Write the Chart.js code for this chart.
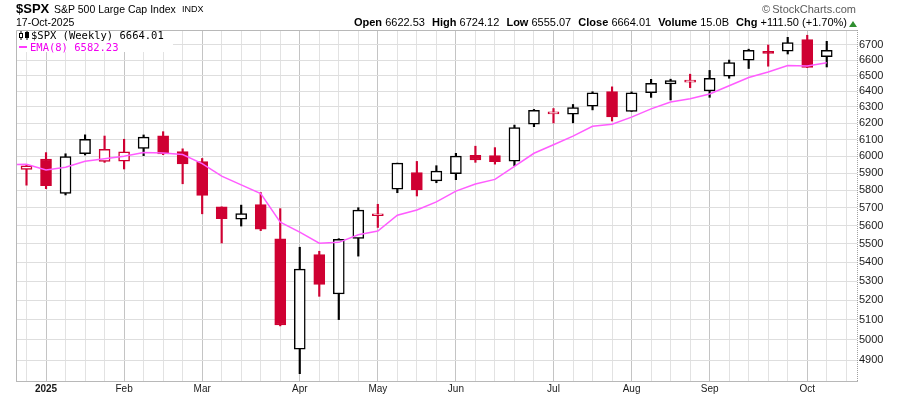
<!DOCTYPE html>
<html><head><meta charset="utf-8">
<script src="https://cdn.jsdelivr.net/npm/chart.js@4.4.1/dist/chart.umd.min.js"></script>
<style>
html,body{margin:0;padding:0;background:#fff;}
#wrap{position:relative;width:900px;height:396px;font-family:"Liberation Sans",Arial,sans-serif;color:#000;overflow:hidden;}
canvas{position:absolute;left:0;top:0;}
.t{position:absolute;white-space:nowrap;line-height:1;}
.mono{font-family:"DejaVu Sans Mono",monospace;font-size:10.5px;line-height:11px;}
#info b{font-size:11px;margin-left:1px;}
#info b:first-child{margin-left:0;}
</style></head><body>
<div id="wrap">
<canvas id="c" width="900" height="396"></canvas>
<div class="t" style="left:16px;top:2px;font-size:13px;font-weight:bold">$SPX</div>
<div class="t" style="left:54px;top:4px;font-size:10.5px">S&amp;P 500 Large Cap Index</div>
<div class="t" style="left:182px;top:5px;font-size:9px">INDX</div>
<div class="t" style="left:16px;top:17px;font-size:10.5px">17-Oct-2025</div>
<div class="t" style="right:44px;top:4px;font-size:11px;color:#5a5a5a">©&thinsp;StockCharts.com</div>
<div class="t" id="info" style="right:53px;top:17px;font-size:11px"></div>
<div style="position:absolute;left:849px;top:21px;width:0;height:0;border-left:4px solid transparent;border-right:4px solid transparent;border-bottom:6px solid #2f8f2f"></div>
<div style="position:absolute;left:17px;top:31px;width:156px;height:21px;background:#fff"></div>
<svg style="position:absolute;left:19px;top:31px" width="11" height="9">
<line x1="2" y1="0" x2="2" y2="9" stroke="#000" stroke-width="1"/><rect x="0.5" y="2.5" width="3" height="4" fill="#fff" stroke="#000"/>
<line x1="8" y1="0" x2="8" y2="9" stroke="#000" stroke-width="1"/><rect x="6.5" y="1.5" width="3" height="5" fill="#000" stroke="#000"/>
</svg>
<div class="t mono" id="leg1" style="left:31px;top:30px"></div>
<div style="position:absolute;left:19px;top:46px;width:8px;height:2px;background:#ff3cff"></div>
<div class="t mono" id="leg2" style="left:30px;top:42px;color:#f000f0"></div>
</div>
<script>
// ---- data (weekly, week of 30-Dec-2024 .. week of 13-Oct-2025) ----
const weekStarts = ["2024-12-30","2025-01-06","2025-01-13","2025-01-21","2025-01-27","2025-02-03","2025-02-10","2025-02-18","2025-02-24","2025-03-03","2025-03-10","2025-03-17","2025-03-24","2025-03-31","2025-04-07","2025-04-14","2025-04-21","2025-04-28","2025-05-05","2025-05-12","2025-05-19","2025-05-27","2025-06-02","2025-06-09","2025-06-16","2025-06-23","2025-06-30","2025-07-07","2025-07-14","2025-07-21","2025-07-28","2025-08-04","2025-08-11","2025-08-18","2025-08-25","2025-09-02","2025-09-08","2025-09-15","2025-09-22","2025-09-29","2025-10-06","2025-10-13"];
const open  = [5920.67,5982.81,5782.39,6014.12,5969.04,5969.65,6046.40,6121.60,6026.69,5968.33,5705.37,5635.60,5718.08,5527.91,4953.79,5441.96,5232.94,5529.22,5655.32,5807.10,5902.88,5854.07,5896.68,6004.60,6004.00,5969.67,6193.36,6257.00,6255.15,6304.74,6397.69,6271.71,6389.67,6445.95,6457.67,6401.51,6495.00,6599.00,6655.00,6658.00,6735.00,6622.53];
const high  = [5949.34,6021.04,6014.00,6128.18,6120.91,6101.28,6127.47,6147.43,6043.65,5986.09,5705.37,5715.33,5786.95,5695.31,5481.34,5459.46,5528.11,5700.70,5720.10,5958.62,5968.61,5943.24,6016.87,6059.40,6050.83,6187.68,6284.65,6290.22,6315.61,6395.82,6427.02,6395.16,6475.00,6476.00,6508.23,6532.65,6600.21,6671.82,6699.52,6750.87,6764.58,6724.12];
const low   = [5829.53,5809.22,5773.31,6006.88,5962.92,5923.93,6003.00,6008.56,5837.66,5666.29,5504.65,5597.76,5572.42,5069.90,4835.04,5220.79,5101.63,5433.24,5590.00,5786.08,5767.41,5843.66,5861.43,5963.21,5952.56,5943.23,6177.97,6201.01,6201.59,6281.71,6212.69,6271.71,6360.00,6343.85,6422.00,6360.58,6482.00,6545.00,6560.00,6640.00,6550.78,6555.07];
const close = [5942.47,5827.04,5996.66,6101.24,6040.53,6025.99,6114.63,6013.13,5954.50,5770.20,5638.94,5667.56,5580.94,5074.08,5363.36,5282.70,5525.21,5686.67,5659.91,5958.38,5802.82,5911.69,6000.36,5976.97,5967.84,6173.07,6279.35,6259.75,6296.79,6388.64,6238.01,6389.45,6449.80,6466.91,6460.26,6481.50,6584.29,6664.36,6643.70,6715.79,6552.51,6664.01];
const prevClose = 5970.84; // close of the week before the first bar
// EMA(8), starting one week before the first bar
const ema = [5950,5952,5918,5934,5969,5985,5999,6022,6018,6010,5956,5882,5831,5781,5619,5564,5503,5508,5550,5570,5658,5688,5734,5795,5836,5863,5939,6017,6068,6120,6180,6193,6237,6288,6331,6352,6382,6434,6487,6523,6565,6562,6582.23];
const yTicks = [4900,5000,5100,5200,5300,5400,5500,5600,5700,5800,5900,6000,6100,6200,6300,6400,6500,6600,6700];
const monthTickIdx = [1,5,9,14,18,22,27,31,35,40];
const monthTickText = ["2025","Feb","Mar","Apr","May","Jun","Jul","Aug","Sep","Oct"];
const hdrLabels = ["Open","High","Low","Close","Volume","Chg"];
const hdrValues = ["6622.53","6724.12","6555.07","6664.01","15.0B","+111.50 (+1.70%)"];
const legendPrice = "$SPX (Weekly) 6664.01";
const legendEma = "EMA(8) 6582.23";

// ---- header text ----
document.getElementById('info').innerHTML = hdrLabels.map((l,i)=>'<b>'+l+'</b> '+hdrValues[i]).join('&nbsp;&nbsp;');
document.getElementById('leg1').textContent = legendPrice;
document.getElementById('leg2').textContent = legendEma;

// ---- styles ----
const RED = '#cf0032', BLACK = '#000000';
const idx = close.map((_, i) => i);
const prevC = i => i === 0 ? prevClose : close[i-1];
const lineCol = i => close[i] >= prevC(i) ? BLACK : RED;
const bodyFill = i => close[i] >= open[i] ? '#ffffff' : lineCol(i);

const wickData = idx.map(i => ({x: i, y: [low[i], high[i]]}));
const bodyData = idx.map(i => ({x: i, y: [open[i], close[i]]}));
const emaData = ema.map((v, k) => ({x: k - 1, y: v}));

const frame = {
  id: 'frame',
  afterDraw(chart) {
    const {ctx, chartArea: a} = chart;
    ctx.save();
    ctx.strokeStyle = '#b8b8b8';
    ctx.lineWidth = 1;
    ctx.beginPath();
    ctx.moveTo(a.left + 0.5, a.bottom); ctx.lineTo(a.left + 0.5, a.top + 0.5); ctx.lineTo(a.right, a.top + 0.5);
    ctx.stroke();
    ctx.strokeStyle = '#a0a0a0';
    ctx.setLineDash([1, 1]);
    ctx.beginPath();
    ctx.moveTo(a.right + 0.5, a.top); ctx.lineTo(a.right + 0.5, a.bottom);
    ctx.stroke();
    ctx.restore();
  }
};

new Chart(document.getElementById('c'), {
  type: 'bar',
  data: {
    datasets: [
      {type: 'line', data: emaData, borderColor: '#ff5cff', borderWidth: 1.5, pointRadius: 0, tension: 0, order: 0},
      {type: 'bar', data: bodyData, backgroundColor: idx.map(bodyFill), borderColor: idx.map(lineCol),
       borderWidth: 1.5, borderSkipped: false, barThickness: 11, grouped: false, minBarLength: 2, order: 1},
      {type: 'bar', data: wickData, backgroundColor: idx.map(lineCol), borderWidth: 0,
       barThickness: 1.5, grouped: false, order: 2}
    ]
  },
  options: {
    responsive: false, animation: false, devicePixelRatio: 1,
    layout: {padding: {left: 16, top: 30, right: 0, bottom: 0}},
    plugins: {legend: {display: false}, tooltip: {enabled: false}},
    scales: {
      x: {
        type: 'linear', min: -0.538, max: 42.55, offset: false,
        afterBuildTicks: s => { s.ticks = Array.from({length: 43}, (_, i) => ({value: i})); },
        afterFit: s => { s.height = 15; },
        grid: {offset: false, drawTicks: false, tickLength: 0,
               color: c => monthTickIdx.includes(c.tick && c.tick.value) ? '#c4c4c4' : '#e2e2e2'},
        border: {color: '#b8b8b8'},
        ticks: {autoSkip: false, maxRotation: 0, padding: 2, color: '#1a1a1a',
                font: c => ({family: 'Liberation Sans', size: 10, weight: (c.tick && c.tick.value === 1) ? 'bold' : 'normal'}),
                callback: v => { const k = monthTickIdx.indexOf(v); return k >= 0 ? monthTickText[k] : ''; }}
      },
      y: {
        type: 'logarithmic', position: 'right', min: 4800, max: 6800,
        afterBuildTicks: s => { s.ticks = yTicks.map(v => ({value: v})); },
        afterFit: s => { s.width = 43; },
        grid: {drawTicks: false, tickLength: 0, color: '#dedede'},
        border: {display: false},
        ticks: {padding: 2, color: '#1a1a1a', font: {family: 'Liberation Sans', size: 11},
                callback: v => String(v)}
      }
    }
  },
  plugins: [frame]
});
</script>
</body></html>
